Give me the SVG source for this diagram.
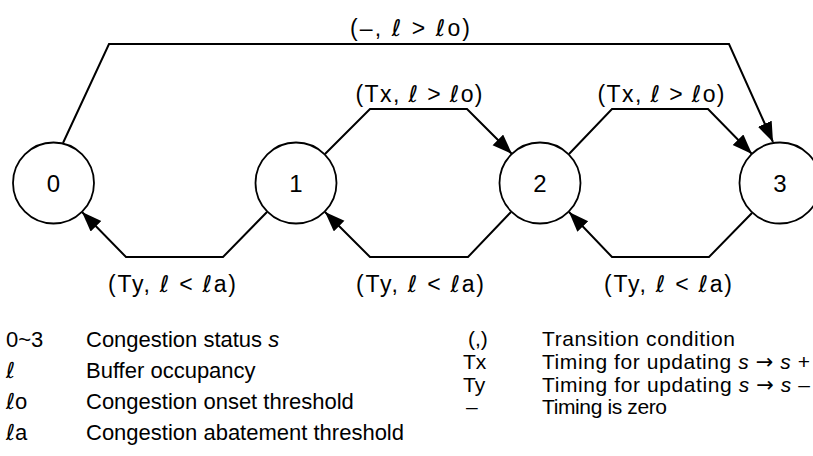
<svg xmlns="http://www.w3.org/2000/svg" width="813" height="456" viewBox="0 0 813 456">
<defs>
<marker id="arr" markerUnits="userSpaceOnUse" markerWidth="22" markerHeight="16" refX="20" refY="7.5" orient="auto">
<path d="M0,0 L20,7.5 L0,15 z" fill="#000"/>
</marker>
<style>
.node circle{fill:#fff;stroke:#000;stroke-width:1.8}
.node text{font-family:"Liberation Sans",Arial,sans-serif;font-size:24px;text-anchor:middle;fill:#000}
.edge{fill:none;stroke:#000;stroke-width:2;marker-end:url(#arr)}
.lbl{font-family:"Liberation Sans","DejaVu Sans",sans-serif;font-size:23px;fill:#000;text-anchor:middle}
.leg{font-family:"Liberation Sans","DejaVu Sans",sans-serif;font-size:22px;fill:#000}
.leg2{font-family:"Liberation Sans","DejaVu Sans",sans-serif;font-size:21px;fill:#000}
.it{font-style:italic}
.ell{font-family:"DejaVu Sans",sans-serif;font-style:italic}
.ar{font-family:"DejaVu Sans",sans-serif}
</style>
</defs>
<rect width="813" height="456" fill="#fff"/>
<g id="connectors">
<path class="edge" d="M63,143 L109,44 L729,44 L773,142"/>
<path class="edge" d="M325,154 L370,109 L467,109 L512,154"/>
<path class="edge" d="M569,154 L612,109 L708,109 L752,154"/>
<path class="edge" d="M267,212 L223,257 L126,257 L82,212"/>
<path class="edge" d="M511,212 L468,257 L370,257 L325,212"/>
<path class="edge" d="M752,213 L709,257 L612,257 L569,212"/>
<text class="lbl" x="410" y="36" textLength="120">(–, <tspan class="ell">ℓ</tspan> &gt; <tspan class="ell">ℓ</tspan>o)</text>
<text class="lbl" x="419" y="102" textLength="127">(Tx, <tspan class="ell">ℓ</tspan> &gt; <tspan class="ell">ℓ</tspan>o)</text>
<text class="lbl" x="661" y="102" textLength="127">(Tx, <tspan class="ell">ℓ</tspan> &gt; <tspan class="ell">ℓ</tspan>o)</text>
<text class="lbl" x="172" y="292" textLength="128">(Ty, <tspan class="ell">ℓ</tspan> &lt; <tspan class="ell">ℓ</tspan>a)</text>
<text class="lbl" x="420" y="292" textLength="128">(Ty, <tspan class="ell">ℓ</tspan> &lt; <tspan class="ell">ℓ</tspan>a)</text>
<text class="lbl" x="668" y="292" textLength="128">(Ty, <tspan class="ell">ℓ</tspan> &lt; <tspan class="ell">ℓ</tspan>a)</text>
</g>
<g id="n0" class="node"><circle cx="53.5" cy="183" r="40.5"/><text x="53.5" y="191.5">0</text></g>
<g id="n1" class="node"><circle cx="296" cy="183" r="40.5"/><text x="296" y="191.5">1</text></g>
<g id="n2" class="node"><circle cx="540" cy="183" r="40.5"/><text x="540" y="191.5">2</text></g>
<g id="n3" class="node"><circle cx="780" cy="183" r="40.5"/><text x="780" y="191.5">3</text></g>
<g id="legend">
<text class="leg" x="6" y="347">0~3</text>
<text class="leg" x="86" y="347">Congestion status <tspan class="it">s</tspan></text>
<text class="leg" x="6" y="378"><tspan class="ell">ℓ</tspan></text>
<text class="leg" x="86" y="378">Buffer occupancy</text>
<text class="leg" x="6" y="409"><tspan class="ell">ℓ</tspan>o</text>
<text class="leg" x="86" y="409">Congestion onset threshold</text>
<text class="leg" x="6" y="440"><tspan class="ell">ℓ</tspan>a</text>
<text class="leg" x="86" y="440">Congestion abatement threshold</text>
<text class="leg2" x="468" y="346">(,)</text>
<text class="leg2" x="542" y="346" textLength="193">Transition condition</text>
<text class="leg2" x="463" y="369">Tx</text>
<text class="leg2" x="542" y="369" textLength="268">Timing for updating <tspan class="it">s</tspan> <tspan class="ar">→</tspan> <tspan class="it">s</tspan> +</text>
<text class="leg2" x="463" y="392">Ty</text>
<text class="leg2" x="542" y="392" textLength="268">Timing for updating <tspan class="it">s</tspan> <tspan class="ar">→</tspan> <tspan class="it">s</tspan> –</text>
<text class="leg2" x="466" y="414">–</text>
<text class="leg2" x="542" y="414" textLength="125">Timing is zero</text>
</g>
</svg>
